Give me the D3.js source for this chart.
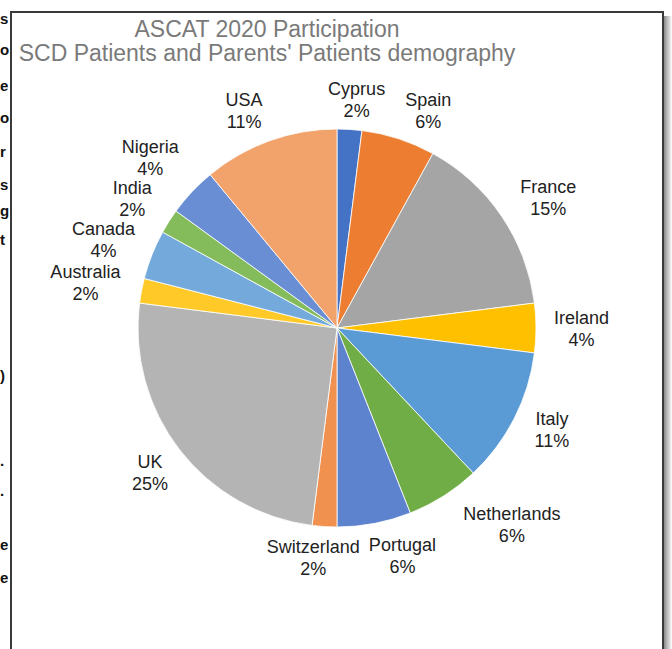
<!DOCTYPE html>
<html>
<head>
<meta charset="utf-8">
<script src="https://cdn.jsdelivr.net/npm/d3@7/dist/d3.min.js"></script>
<style>
  html, body { margin: 0; padding: 0; background: #fff; }
  svg { display: block; font-family: "Liberation Sans", Arial, sans-serif; }
</style>
</head>
<body>
<svg id="chart" width="672" height="649"></svg>
<script>
// Participation share by country (percent), clockwise from 12 o'clock
const countries = ["Cyprus", "Spain", "France", "Ireland", "Italy", "Netherlands", "Portugal",
                   "Switzerland", "UK", "Australia", "Canada", "India", "Nigeria", "USA"];
const shares = [2, 6, 15, 4, 11, 6, 6, 2, 25, 2, 4, 2, 4, 11];
const sliceColors = ["#4472C4", "#ED7D31", "#A5A5A5", "#FFC000", "#5B9BD5", "#70AD47", "#5D82CE",
                     "#F1914F", "#B4B4B4", "#FFC928", "#73A9DB", "#84BC5C", "#6A8ED4", "#F2A26B"];
const titleLines = ["ASCAT 2020 Participation", "SCD Patients and Parents' Patients demography"];

// Fine placement of data labels (px), applied after the outside-end position
const labelNudge = {
  Cyprus: [5, 4], Spain: [18, 8], France: [9, 7], Ireland: [8, 1], Italy: [6, -4],
  Netherlands: [39, -17], Portugal: [21, -5], Switzerland: [-9, -3], UK: [0, 0],
  Australia: [-8, 1], Canada: [-4, 3], India: [-4, -2], Nigeria: [-8, -2], USA: [-13, 5]
};

// Characters of the surrounding page text along the left edge
const marginGlyphs = [["s", 24], ["o", 55], ["e", 91], ["o", 123], ["r", 157], ["s", 190],
                      ["g", 216], ["t", 245], [")", 381], [".", 466], [".", 496], ["e", 550], ["e", 583]];

const svg = d3.select("#chart");
const W = 672, H = 649;

// page text fragments
svg.append("g").selectAll("text").data(marginGlyphs).join("text")
  .attr("x", 0).attr("y", d => d[1])
  .attr("font-size", 15).attr("font-weight", "bold").attr("fill", "#111").text(d => d[0]);

// chart frame with a soft shadow on the right
const defs = svg.append("defs");
const sh = defs.append("linearGradient").attr("id", "shadow").attr("x1", 0).attr("x2", 1);
sh.append("stop").attr("offset", 0).attr("stop-color", "#8a8a8a");
sh.append("stop").attr("offset", 1).attr("stop-color", "#ffffff");
svg.append("rect").attr("x", 664).attr("y", 16).attr("width", 8).attr("height", H - 16)
  .attr("fill", "url(#shadow)");
svg.append("rect").attr("x", 11).attr("y", 12).attr("width", 652).attr("height", H + 10)
  .attr("fill", "#fff").attr("stroke", "#3a3a3a").attr("stroke-width", 2);

// title
svg.append("g").selectAll("text").data(titleLines).join("text")
  .attr("x", 267).attr("y", (d, i) => 37 + i * 24)
  .attr("text-anchor", "middle").attr("font-size", 23).attr("fill", "#7a7a7a")
  .text(d => d);

// pie
const cx = 337, cy = 328, R = 199;
const records = countries.map((c, i) => ({ name: c, value: shares[i], color: sliceColors[i] }));
const pie = d3.pie().value(d => d.value).sort(null);
const arc = d3.arc().innerRadius(0).outerRadius(R);
const arcs = pie(records);

const g = svg.append("g").attr("transform", `translate(${cx},${cy})`);
g.selectAll("path").data(arcs).join("path")
  .attr("d", arc).attr("fill", d => d.data.color)
  .attr("stroke", "#fff").attr("stroke-width", 0.8);

// outside-end data labels: name and percentage
const fs = 18, lineGap = 22, gap = 10;
const labels = g.selectAll("g.lbl").data(arcs).join("g").attr("class", "lbl");
labels.append("text").attr("text-anchor", "middle").attr("font-size", fs).attr("fill", "#222")
  .attr("y", -lineGap / 2 + 6).text(d => d.data.name);
labels.append("text").attr("text-anchor", "middle").attr("font-size", fs).attr("fill", "#222")
  .attr("y", lineGap / 2 + 6).text(d => d.data.value + "%");
labels.each(function (d) {
  const bb = this.getBBox();
  const a = (d.startAngle + d.endAngle) / 2;
  const s = Math.sin(a), c = Math.cos(a);
  const dist = R + gap + Math.abs(s) * bb.width / 2 + Math.abs(c) * lineGap;
  const n = labelNudge[d.data.name] || [0, 0];
  d3.select(this).attr("transform", `translate(${dist * s + n[0]},${-dist * c + n[1]})`);
});
</script>
</body>
</html>
